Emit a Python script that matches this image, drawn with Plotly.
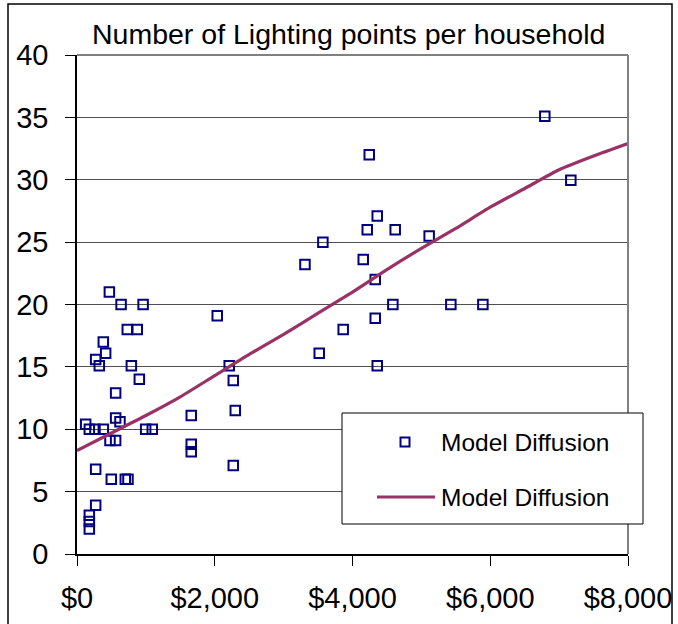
import plotly.graph_objects as go

# ---- data ----
income = [470, 640, 960, 730, 875, 382, 416, 271, 324, 789, 905, 561, 561, 624, 126,
          179, 261, 382, 997, 1093, 479, 561, 271, 498, 701, 740, 271, 179, 179, 179,
          2036, 2210, 2269, 2298, 1659, 1659, 1659, 2269, 3310,
          4243, 4359, 4214, 4620, 3570, 5113, 4156, 4330, 4586, 5428, 5893, 4330,
          3865, 3517, 4359, 6792, 7170]
points = [21, 20, 20, 18, 18, 17, 16.1, 15.6, 15.1, 15.1, 14, 12.9, 10.9, 10.6, 10.4,
          10, 10, 10, 10, 10, 9.1, 9.1, 6.8, 6, 6, 6, 3.9, 3.1, 2.6, 2.0,
          19.1, 15.1, 13.9, 11.5, 11.1, 8.8, 8.2, 7.1, 23.2,
          32, 27.1, 26, 26, 25, 25.5, 23.6, 22, 20, 20, 20, 18.9,
          18, 16.1, 15.1, 35.1, 29.95]

model_x = [0, 500, 1000, 1500, 2000, 2500, 3000, 3500, 4000, 4500, 5000, 5500,
           6000, 6500, 7000, 7500, 8000]
model_y = [8.3, 9.7, 11.1, 12.6, 14.3, 16.0, 17.6, 19.3, 21.0, 22.8, 24.5, 26.1,
           27.8, 29.3, 30.8, 31.9, 32.9]

x_tickvals = [0, 2000, 4000, 6000, 8000]
x_ticktext = ["$0", "$2,000", "$4,000", "$6,000", "$8,000"]
title_text = "Number of Lighting points per household"
legend_labels = ["Model Diffusion", "Model Diffusion"]

MARKER_COLOR = "#000080"
LINE_COLOR = "#993366"
FONT = "Liberation Sans, Arial, sans-serif"

# plot-area pixel geometry
W, H = 678, 624
L, R, T, B = 77, 628, 55, 554


def pxx(p):
    return (p - L) / (R - L)


def pxy(p):
    return (B - p) / (B - T)


fig = go.Figure()
fig.add_trace(go.Scatter(
    x=income, y=points, mode="markers",
    marker=dict(symbol="square-open", size=9.5, color=MARKER_COLOR,
                line=dict(width=2, color=MARKER_COLOR)),
    name=legend_labels[0], showlegend=False, cliponaxis=False))
fig.add_trace(go.Scatter(
    x=model_x, y=model_y, mode="lines",
    line=dict(color=LINE_COLOR, width=3.2, shape="spline", smoothing=0.6),
    name=legend_labels[1], showlegend=False))

shapes = [
    # outer chart border
    dict(type="rect", xref="paper", yref="paper", x0=pxx(8), x1=pxx(672),
         y0=pxy(640), y1=pxy(4), line=dict(color="black", width=1.5),
         fillcolor="rgba(0,0,0,0)", layer="below"),
    # plot-area top and right borders (gray)
    dict(type="line", xref="paper", yref="paper", x0=0, x1=1, y0=1, y1=1,
         line=dict(color="#808080", width=2)),
    dict(type="line", xref="paper", yref="paper", x0=1, x1=1, y0=0, y1=1,
         line=dict(color="#808080", width=2)),
    # legend box
    dict(type="rect", xref="paper", yref="paper", x0=pxx(342), x1=pxx(643),
         y0=pxy(524), y1=pxy(413), line=dict(color="black", width=1),
         fillcolor="white"),
    # legend marker
    dict(type="rect", xref="paper", yref="paper", x0=pxx(400.5), x1=pxx(409.5),
         y0=pxy(446.5), y1=pxy(437.5), line=dict(color=MARKER_COLOR, width=2),
         fillcolor="white"),
    # legend line
    dict(type="line", xref="paper", yref="paper", x0=pxx(377), x1=pxx(435),
         y0=pxy(497), y1=pxy(497), line=dict(color=LINE_COLOR, width=3.2)),
]

annotations = [
    dict(text=title_text, xref="paper", yref="paper", x=pxx(348), y=pxy(33.5),
         xanchor="center", yanchor="middle", showarrow=False,
         font=dict(size=28.5, color="black", family=FONT)),
    dict(text=legend_labels[0], xref="paper", yref="paper", x=pxx(439), y=pxy(442),
         xanchor="left", yanchor="middle", showarrow=False,
         font=dict(size=24.5, color="black", family=FONT)),
    dict(text=legend_labels[1], xref="paper", yref="paper", x=pxx(439), y=pxy(497),
         xanchor="left", yanchor="middle", showarrow=False,
         font=dict(size=24.5, color="black", family=FONT)),
]

fig.update_layout(
    width=W, height=H, autosize=False,
    margin=dict(l=L, r=W - R, t=T, b=H - B, pad=0, autoexpand=False),
    paper_bgcolor="white", plot_bgcolor="white",
    font=dict(family=FONT, color="black"),
    showlegend=False,
    shapes=shapes, annotations=annotations,
    xaxis=dict(range=[0, 8000], tickvals=x_tickvals, ticktext=x_ticktext,
               automargin=False,
               showgrid=False, zeroline=False, showline=True, linecolor="black",
               linewidth=1.5, ticks="outside", ticklen=10, tickcolor="black",
               tickwidth=1, tickfont=dict(size=29, family=FONT, color="black"),
               ticklabelstandoff=7),
    yaxis=dict(range=[0, 40], dtick=5, tick0=0, showgrid=True, gridcolor="#505050",
               automargin=False,
               gridwidth=1, zeroline=False, showline=True, linecolor="black",
               linewidth=1.5, ticks="outside", ticklen=10, tickcolor="black",
               tickwidth=1, tickfont=dict(size=29, family=FONT, color="black"),
               ticklabelstandoff=11),
)

fig.write_html("out.html",
               config={"displayModeBar": False, "staticPlot": False},
               post_script="document.body.style.margin='0px';document.body.style.overflow='hidden';")
